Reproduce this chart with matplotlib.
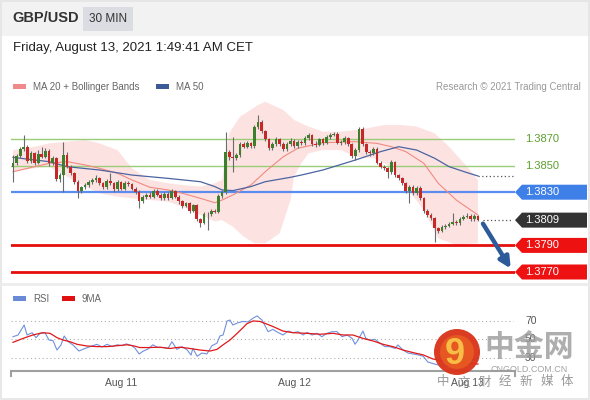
import matplotlib
matplotlib.use("Agg")
import matplotlib.pyplot as plt
from matplotlib.patches import Polygon, Circle, Rectangle
from matplotlib.transforms import blended_transform_factory

plt.rcParams['font.family'] = ['Liberation Sans', 'DejaVu Sans']

# ---------------- data ----------------
first_open = 1.38492
closes = [1.38517, 1.38572, 1.38622, 1.38642, 1.38535, 1.38592, 1.38522, 1.38587, 1.38567, 1.38612,
          1.38517, 1.38555, 1.38397, 1.38429, 1.38580, 1.38492, 1.38442, 1.38379, 1.38312, 1.38337,
          1.38354, 1.38379, 1.38392, 1.38404, 1.38367, 1.38337, 1.38387, 1.38367, 1.38322, 1.38374,
          1.38327, 1.38372, 1.38359, 1.38327, 1.38304, 1.38234, 1.38266, 1.38282, 1.38266, 1.38312,
          1.38282, 1.38256, 1.38287, 1.38259, 1.38312, 1.38266, 1.38231, 1.38196, 1.38216, 1.38159,
          1.38204, 1.38096, 1.38071, 1.38136, 1.38134, 1.38161, 1.38151, 1.38274, 1.38302, 1.38600,
          1.38562, 1.38555, 1.38577, 1.38662, 1.38642, 1.38667, 1.38647, 1.38788, 1.38828, 1.38760,
          1.38698, 1.38635, 1.38662, 1.38698, 1.38660, 1.38622, 1.38662, 1.38688, 1.38647, 1.38677,
          1.38667, 1.38705, 1.38728, 1.38660, 1.38657, 1.38698, 1.38670, 1.38715, 1.38733, 1.38740,
          1.38672, 1.38680, 1.38705, 1.38660, 1.38572, 1.38617, 1.38778, 1.38660, 1.38605, 1.38592,
          1.38627, 1.38522, 1.38492, 1.38480, 1.38454, 1.38525, 1.38429, 1.38404, 1.38367, 1.38309,
          1.38342, 1.38292, 1.38334, 1.38254, 1.38159, 1.38129, 1.38104, 1.38028, 1.38011, 1.38036,
          1.38046, 1.38061, 1.38076, 1.38066, 1.38101, 1.38116, 1.38124, 1.38096, 1.38121, 1.38091]
highs = [1.38580, 1.38590, 1.38640, 1.38730, 1.38655, 1.38610, 1.38605, 1.38620, 1.38640, 1.38630,
         1.38625, 1.38570, 1.38565, 1.38445, 1.38680, 1.38600, 1.38505, 1.38455, 1.38390, 1.38350,
         1.38370, 1.38395, 1.38410, 1.38430, 1.38415, 1.38380, 1.38400, 1.38442, 1.38380, 1.38390,
         1.38385, 1.38385, 1.38385, 1.38370, 1.38340, 1.38315, 1.38280, 1.38295, 1.38300, 1.38325,
         1.38325, 1.38295, 1.38300, 1.38300, 1.38325, 1.38320, 1.38280, 1.38245, 1.38230, 1.38225,
         1.38215, 1.38215, 1.38105, 1.38150, 1.38150, 1.38175, 1.38170, 1.38290, 1.38320, 1.38755,
         1.38620, 1.38717, 1.38595, 1.38680, 1.38680, 1.38685, 1.38680, 1.38805, 1.38880, 1.38840,
         1.38770, 1.38710, 1.38680, 1.38715, 1.38710, 1.38675, 1.38675, 1.38705, 1.38700, 1.38690,
         1.38695, 1.38720, 1.38745, 1.38740, 1.38685, 1.38710, 1.38710, 1.38730, 1.38745, 1.38755,
         1.38750, 1.38695, 1.38720, 1.38715, 1.38670, 1.38630, 1.38790, 1.38790, 1.38670, 1.38620,
         1.38640, 1.38640, 1.38535, 1.38505, 1.38490, 1.38540, 1.38535, 1.38440, 1.38415, 1.38375,
         1.38355, 1.38355, 1.38345, 1.38345, 1.38265, 1.38170, 1.38140, 1.38115, 1.38040, 1.38050,
         1.38060, 1.38075, 1.38141, 1.38090, 1.38115, 1.38130, 1.38140, 1.38135, 1.38135, 1.38130]
lows = [1.38379, 1.38505, 1.38560, 1.38610, 1.38520, 1.38520, 1.38505, 1.38510, 1.38555, 1.38555,
        1.38500, 1.38505, 1.38385, 1.38380, 1.38304, 1.38480, 1.38430, 1.38365, 1.38254, 1.38295,
        1.38325, 1.38340, 1.38365, 1.38380, 1.38355, 1.38325, 1.38325, 1.38355, 1.38305, 1.38310,
        1.38315, 1.38315, 1.38345, 1.38315, 1.38290, 1.38179, 1.38220, 1.38250, 1.38255, 1.38255,
        1.38270, 1.38240, 1.38245, 1.38245, 1.38250, 1.38255, 1.38215, 1.38180, 1.38185, 1.38145,
        1.38150, 1.38085, 1.38041, 1.38060, 1.38016, 1.38120, 1.38140, 1.38140, 1.38260, 1.38290,
        1.38545, 1.38454, 1.38540, 1.38565, 1.38630, 1.38630, 1.38635, 1.38635, 1.38775, 1.38745,
        1.38685, 1.38620, 1.38620, 1.38645, 1.38645, 1.38610, 1.38610, 1.38650, 1.38630, 1.38635,
        1.38655, 1.38655, 1.38690, 1.38645, 1.38640, 1.38645, 1.38655, 1.38660, 1.38700, 1.38720,
        1.38660, 1.38655, 1.38665, 1.38645, 1.38560, 1.38542, 1.38605, 1.38645, 1.38590, 1.38575,
        1.38580, 1.38510, 1.38480, 1.38465, 1.38404, 1.38440, 1.38415, 1.38390, 1.38355, 1.38295,
        1.38216, 1.38280, 1.38280, 1.38240, 1.38145, 1.38115, 1.38090, 1.37928, 1.37995, 1.38000,
        1.38020, 1.38035, 1.38050, 1.38055, 1.38055, 1.38090, 1.38105, 1.38085, 1.38085, 1.38080]

ma50_idx = [0, 6, 10, 15, 24, 33, 43, 52, 56, 58, 61, 66, 70, 77, 80, 86, 95, 102, 107, 112, 117, 121, 126, 129]
ma50_val = [1.38562, 1.38542, 1.38530, 1.38492, 1.38467, 1.38429, 1.38404, 1.38379, 1.38342, 1.38317,
            1.38312, 1.38342, 1.38379, 1.38412, 1.38429, 1.38467, 1.38542, 1.38605, 1.38642, 1.38617,
            1.38555, 1.38492, 1.38447, 1.38422]
ma20_idx = [0, 6, 10, 15, 20, 24, 29, 33, 38, 43, 47, 52, 56, 58, 61, 66, 70, 75, 79, 86, 95, 101,
            105, 109, 114, 118, 123, 127, 129]
ma20_val = [1.38454, 1.38492, 1.38517, 1.38530, 1.38505, 1.38480, 1.38442, 1.38392, 1.38337, 1.38317,
            1.38292, 1.38254, 1.38221, 1.38241, 1.38279, 1.38354, 1.38454, 1.38567, 1.38630, 1.38672,
            1.38680, 1.38667, 1.38642, 1.38605, 1.38517, 1.38367, 1.38241, 1.38166, 1.38129]
bb_up_idx = [0, 6, 10, 15, 20, 24, 29, 33, 38, 43, 47, 52, 56, 58, 60, 63, 68, 70, 75, 78, 82, 86, 91,
             95, 98, 103, 108, 112, 117, 121, 126, 129]
bb_up_val = [1.38617, 1.38642, 1.38667, 1.38680, 1.38692, 1.38667, 1.38617, 1.38480, 1.38392, 1.38367,
             1.38354, 1.38342, 1.38367, 1.38392, 1.38743, 1.38868, 1.38955, 1.38980, 1.38918, 1.38843,
             1.38793, 1.38755, 1.38755, 1.38768, 1.38780, 1.38805, 1.38805, 1.38793, 1.38743, 1.38642,
             1.38492, 1.38392]
bb_lo_idx = [0, 6, 10, 15, 20, 24, 29, 33, 38, 43, 47, 52, 56, 58, 61, 64, 67, 70, 74, 77, 78, 80, 82,
             86, 91, 95, 100, 105, 109, 114, 118, 123, 129]
bb_lo_val = [1.38454, 1.38480, 1.38492, 1.38417, 1.38342, 1.38292, 1.38266, 1.38254, 1.38241, 1.38229,
             1.38191, 1.38129, 1.38079, 1.38091, 1.38041, 1.37966, 1.37916, 1.37916, 1.37991, 1.38241,
             1.38417, 1.38517, 1.38592, 1.38617, 1.38617, 1.38567, 1.38555, 1.38492, 1.38342, 1.38166,
             1.37953, 1.37903, 1.37916]

rsi_idx = [0.0, 1.4, 3.1, 3.9, 5.3, 6.4, 7.5, 8.9, 10.0, 11.1, 12.2, 13.3, 14.2, 15.3, 16.6, 18.3, 20.0,
           21.9, 23.3, 24.7, 26.1, 27.5, 28.9, 30.2, 31.4, 33.0, 33.9, 35.0, 36.1, 37.5, 38.8, 40.2,
           41.6, 43.0, 44.1, 45.5, 46.9, 48.3, 49.4, 49.9, 51.1, 52.4, 53.8, 55.2, 56.6, 57.4, 58.3,
           59.4, 60.2, 61.0, 62.4, 63.8, 65.2, 66.6, 67.7, 69.1, 70.8, 72.1, 73.5, 74.9, 76.3, 77.7,
           79.1, 80.5, 81.6, 83.0, 84.4, 85.7, 87.1, 88.5, 89.9, 91.3, 92.7, 94.1, 94.9, 95.7, 97.1,
           97.9, 99.1, 100.4, 101.8, 103.2, 104.6, 106.0, 106.8, 108.2, 109.6, 111.0, 112.4, 113.8,
           115.1, 116.5, 118.0, 120.0, 122.0, 124.0, 126.0, 128.0, 129.0]
rsi_val = [52.8, 54.7, 65.6, 54.7, 57.2, 51.8, 56.5, 57.0, 49.2, 48.5, 38.3, 43.8, 53.6, 47.4, 44.0, 37.2,
           40.0, 42.7, 44.5, 41.6, 44.5, 42.0, 44.0, 43.0, 45.0, 43.0, 40.0, 34.0, 37.0, 39.5, 44.0, 41.0,
           41.0, 40.0, 47.4, 39.0, 42.0, 38.5, 32.8, 40.0, 31.5, 35.0, 34.0, 43.0, 45.8, 53.6, 54.7,
           70.0, 71.0, 65.6, 68.0, 69.5, 69.0, 73.0, 75.5, 71.0, 58.3, 60.8, 57.5, 54.7, 59.0, 57.2,
           58.3, 54.7, 57.5, 54.7, 56.5, 52.8, 56.5, 58.3, 58.3, 52.8, 54.7, 51.0, 44.6, 49.0, 59.0,
           51.0, 49.0, 50.0, 45.8, 42.0, 42.0, 40.0, 43.8, 38.3, 35.0, 34.0, 33.0, 31.5, 25.3, 23.5,
           22.0, 20.5, 23.0, 26.0, 27.0, 28.0, 27.0]
rsi_ma_idx = [0.0, 2.8, 5.5, 8.3, 10.3, 12.2, 13.9, 15.8, 17.8, 20.5, 23.3, 26.1, 28.9, 31.6, 33.3, 35.2,
              38.0, 40.8, 43.6, 46.3, 49.1, 51.9, 54.7, 56.6, 58.3, 60.2, 62.2, 63.8, 64.9, 66.6, 68.5,
              70.5, 72.1, 74.9, 77.7, 81.6, 85.2, 88.8, 91.6, 94.3, 97.1, 99.9, 102.7, 105.4, 108.2,
              111.0, 113.8, 116.5, 120.0, 125.0, 129.0]
rsi_ma_val = [46.7, 51.0, 54.7, 57.2, 56.5, 51.8, 49.2, 47.4, 44.5, 42.7, 42.0, 42.0, 43.0, 44.0, 43.0,
              41.0, 41.0, 41.4, 40.0, 41.4, 40.0, 38.3, 37.2, 39.0, 44.0, 49.2, 56.5, 62.6, 67.0, 70.0,
              69.5, 66.5, 64.0, 59.0, 57.2, 56.5, 55.5, 56.5, 54.7, 54.7, 51.0, 48.2, 44.5, 42.0, 38.3,
              35.5, 33.0, 28.5, 26.0, 24.0, 23.0]

green_levels = [1.3870, 1.3850]
blue_level = 1.3830
last_price = 1.3809
red_levels = [1.3790, 1.3770]
target_price = 1.37708
rsi_levels = [70, 50, 30]
day_ticks = [30, 78, 126]
day_labels = ['Aug 11', 'Aug 12', 'Aug 13']

# ---------------- figure ----------------
W, H = 590, 400
fig = plt.figure(figsize=(W / 100, H / 100), dpi=100)
fig.patch.set_facecolor('white')

bg = fig.add_axes([0, 0, 1, 1], zorder=0)
bg.set_xlim(0, W); bg.set_ylim(H, 0); bg.axis('off')
bg.add_patch(Rectangle((0, 0), W, 36, facecolor='#f2f2f2', edgecolor='none'))
bg.add_patch(Rectangle((83, 7), 50, 24, facecolor='#dcdde2', edgecolor='none'))
bg.add_patch(Rectangle((0.5, 0.5), W - 1.5, H - 1.5, facecolor='none', edgecolor='#e4e4e4', lw=1.2))
bg.plot([0, W], [284, 284], color='#ececec', lw=2)
bg.text(12, 18, 'GBP/USD', fontsize=10.5, fontweight='bold', color='#333333', va='center')
bg.text(108, 19, '30 MIN', fontsize=8.5, color='#333333', va='center', ha='center')
bg.text(13, 48, 'Friday, August 13, 2021 1:49:41 AM CET', fontsize=9.5, color='#222222', va='center')
bg.add_patch(Rectangle((13, 84), 13, 5, facecolor='#f08a8a', edgecolor='none'))
bg.text(33, 86.5, 'MA 20 + Bollinger Bands', fontsize=7, color='#666666', va='center')
bg.add_patch(Rectangle((156, 84), 13, 5, facecolor='#3d5a98', edgecolor='none'))
bg.text(176, 86.5, 'MA 50', fontsize=7, color='#666666', va='center')
bg.text(581, 86.5, 'Research \u00a9 2021 Trading Central', fontsize=7, color='#999999', va='center', ha='right')
bg.add_patch(Rectangle((13, 296), 13, 5, facecolor='#6a8ad8', edgecolor='none'))
bg.text(33, 298.5, 'RSI', fontsize=7, color='#666666', va='center')
bg.add_patch(Rectangle((62, 296), 13, 5, facecolor='#e01010', edgecolor='none'))
bg.text(82, 298.5, '9MA', fontsize=7, color='#666666', va='center')

# main price axes
ax = fig.add_axes([11 / W, 1 - 282 / H, 504 / W, 184 / H], zorder=2)
ax.set_facecolor('none')
ax.set_xlim(-0.555, 139.29)
ax.set_ylim(1.376248, 1.390083)
ax.axis('off')

band_x = bb_up_idx + bb_lo_idx[::-1]
band_y = bb_up_val + bb_lo_val[::-1]
ax.fill(band_x, band_y, color='#fde2e2', lw=0, zorder=1)

for lv in green_levels:
    ax.axhline(lv, color='#9ccc78', lw=1.0, zorder=2)
ax.axhline(blue_level, color='#5b8def', lw=1.6, zorder=2)
for lv in red_levels:
    ax.axhline(lv, color='#e60d0d', lw=2.0, zorder=2)

ax.plot(ma20_idx, ma20_val, color='#f08a80', lw=0.8, zorder=3)
ax.plot(ma50_idx, ma50_val, color='#4a64a0', lw=0.9, zorder=3)
ax.plot([ma50_idx[-1], 138.6], [ma50_val[-1], ma50_val[-1]], color='#555555', lw=0.9, ls=(0, (1, 2)), zorder=3)
ax.plot([130.5, 138.6], [last_price, last_price], color='#555555', lw=0.9, ls=(0, (1, 2)), zorder=3)

opens = [first_open] + closes[:-1]
for i, (o, c, h, l) in enumerate(zip(opens, closes, highs, lows)):
    col = '#3d7f2c' if c >= o else '#c62828'
    ax.vlines(i, l, h, color='#6b6b6b', lw=0.8, zorder=4)
    body = max(abs(c - o), 0.00004)
    ax.bar(i, body, bottom=min(o, c), width=0.75, color=col, edgecolor='none', zorder=5)

ax.annotate('', xy=(138.5, target_price), xytext=(130.0, closes[-1] - 0.0001),
            arrowprops=dict(arrowstyle='-|>', color='#2d5b9a', lw=3.2, mutation_scale=16),
            annotation_clip=False, zorder=6)

# RSI axes
rax = fig.add_axes([11 / W, 1 - 371 / H, 504 / W, 81 / H], zorder=2)
rax.set_facecolor('none')
rax.set_xlim(-0.555, 139.29)
rax.set_ylim(15.4, 103.8)
for s in ['top', 'right', 'left']:
    rax.spines[s].set_visible(False)
rax.spines['bottom'].set_color('#a0a0a0')
rax.spines['bottom'].set_linewidth(1.5)
rax.set_yticks([])
rax.set_xticks(day_ticks)
rax.set_xticklabels(day_labels, fontsize=7.5, color='#555555')
rax.tick_params(axis='x', length=0, pad=5)
for lv in rsi_levels:
    rax.plot([-0.555, 138.8], [lv, lv], color='#b0b0b0', lw=0.8, ls=(0, (1, 2.5)), zorder=1)
rax.plot(rsi_idx, rsi_val, color='#7090dc', lw=0.8, zorder=3)
rax.plot(rsi_ma_idx, rsi_ma_val, color='#e01818', lw=0.9, zorder=4)
xt = rax.get_xaxis_transform()
for xe in [-0.555, 139.29]:
    rax.plot([xe, xe], [0, -0.06], transform=xt, color='#a0a0a0', lw=1.5, clip_on=False)

# overlay for labels / boxes / watermark
top = fig.add_axes([0, 0, 1, 1], zorder=5)
top.set_facecolor('none')
top.set_xlim(0, W); top.set_ylim(H, 0); top.axis('off')


def ypx(axes, val):
    return H - axes.transData.transform((0, val))[1]


for lv in green_levels:
    top.text(525, ypx(ax, lv), f'{lv:.4f}', fontsize=8, color='#5c9e30', va='center')


def box(level, color):
    y = ypx(ax, level)
    pts = [(515, y), (522, y - 7.5), (587, y - 7.5), (587, y + 7.5), (522, y + 7.5)]
    top.add_patch(Polygon(pts, closed=True, facecolor=color, edgecolor='none'))
    top.text(525, y, f'{level:.4f}', fontsize=8, color='white', va='center')


box(blue_level, '#3f7fe8')
box(last_price, '#333333')
for lv in red_levels:
    box(lv, '#ee1111')

for lv in rsi_levels:
    top.text(525, ypx(rax, lv), str(lv), fontsize=7.5, color='#555555', va='center')

# watermark
top.add_patch(Circle((457, 352), 23, facecolor='#d9361c', edgecolor='none', alpha=0.97))
top.add_patch(Circle((457, 352), 17, facecolor='#e85a22', edgecolor='none', alpha=0.9))
top.text(455, 354, '9', fontsize=26, fontweight='bold', color='#f7bd45', ha='center', va='center')
top.text(529, 347, '中金网', fontsize=21.5, fontweight='bold', color='#9a9a9a', alpha=0.8,
         ha='center', va='center', family=['Noto Sans CJK SC', 'DejaVu Sans'])
top.text(529, 369, 'CNGOLD.COM.CN', fontsize=6.5, color='#9a9a9a', alpha=0.9, ha='center', va='center')
for k, ch in enumerate('中文财经新媒体'):
    top.text(443 + k * 20.7, 382, ch, fontsize=9, color='#888888', alpha=0.85, ha='center', va='center',
             family=['Noto Sans CJK SC', 'DejaVu Sans'])

fig.savefig('out.png', dpi=100)
